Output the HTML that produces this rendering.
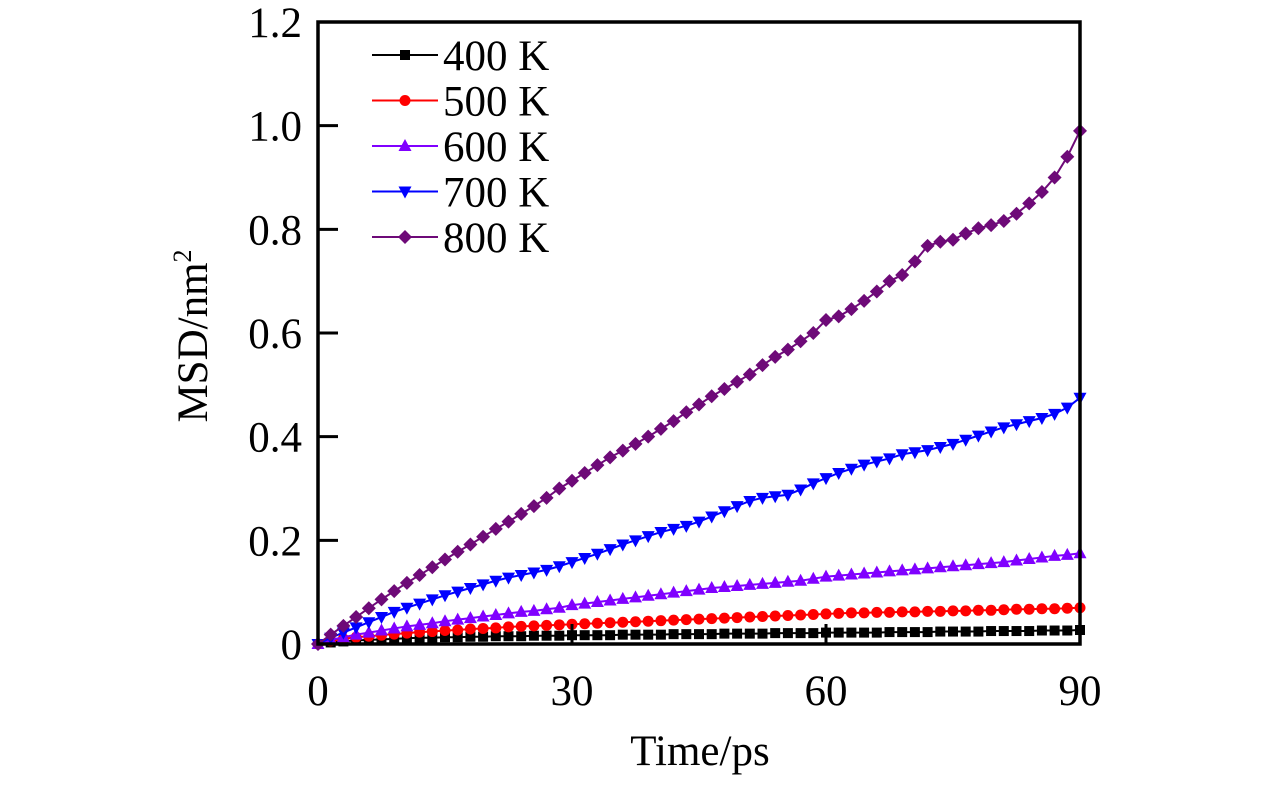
<!DOCTYPE html>
<html><head><meta charset="utf-8"><style>
html,body{margin:0;padding:0;background:#fff;}
svg text{font-family:"Liberation Serif",serif;fill:#000;}
</style></head><body>
<svg id="chart" width="1276" height="787" xmlns="http://www.w3.org/2000/svg"></svg>
<script>
const times = Array.from({length:61},(_,i)=>i*1.5);
const seriesNames = ["400 K","500 K","600 K","700 K","800 K"];
const s400 = [0,.003,.005,.007,.008,.009,.010,.011,.012,.012,.013,.013,.014,.014,.015,.015,.015,.016,.016,.016,.017,.017,.017,.017,.018,.018,.018,.018,.019,.019,.019,.019,.020,.020,.020,.020,.021,.021,.021,.021,.022,.022,.022,.022,.022,.023,.023,.023,.023,.024,.024,.024,.024,.025,.025,.025,.025,.026,.026,.026,.027];
const s500 = [0,.006,.010,.013,.015,.017,.019,.021,.023,.024,.026,.027,.029,.030,.031,.033,.034,.035,.036,.037,.038,.039,.040,.041,.042,.043,.044,.045,.046,.047,.048,.049,.050,.051,.052,.053,.054,.055,.056,.057,.058,.059,.060,.060,.061,.061,.062,.062,.063,.063,.064,.064,.065,.065,.066,.067,.067,.068,.068,.069,.070];
const s600 = [0,.008,.013,.018,.022,.026,.030,.034,.037,.040,.044,.047,.050,.053,.056,.059,.062,.064,.067,.070,.075,.078,.081,.084,.087,.090,.093,.096,.099,.102,.105,.108,.110,.112,.114,.116,.118,.120,.122,.126,.130,.132,.134,.136,.138,.140,.142,.144,.146,.148,.150,.152,.154,.156,.158,.161,.164,.167,.170,.172,.175];
const s700 = [0,.012,.022,.032,.042,.052,.062,.070,.078,.086,.094,.101,.108,.115,.122,.128,.133,.138,.143,.150,.158,.166,.174,.183,.192,.200,.208,.216,.222,.228,.236,.246,.256,.266,.276,.282,.285,.288,.298,.310,.320,.330,.338,.346,.352,.358,.366,.370,.374,.380,.386,.394,.402,.410,.418,.424,.430,.436,.444,.456,.475];
const s800 = [0,.018,.035,.052,.069,.086,.102,.118,.133,.148,.163,.178,.192,.207,.222,.236,.251,.266,.282,.300,.315,.330,.345,.360,.373,.386,.400,.415,.430,.447,.462,.478,.492,.506,.520,.538,.554,.568,.584,.600,.625,.632,.646,.662,.680,.700,.712,.738,.768,.776,.780,.792,.802,.808,.816,.830,.850,.872,.900,.940,.990];
const xTicks = [0,30,60,90];
const yTicks = [0,0.2,0.4,0.6,0.8,1.0,1.2];
const yTickLabels = ["0","0.2","0.4","0.6","0.8","1.0","1.2"];

const L=318,R=1080,T=22,B=644;
const xs=v=>L+(v/90)*(R-L);
const ys=v=>B-(v/1.2)*(B-T);
const svg=document.getElementById('chart');
const NS="http://www.w3.org/2000/svg";
function mk(tag,attrs,parent){const e=document.createElementNS(NS,tag);for(const k in attrs)e.setAttribute(k,attrs[k]);(parent||svg).appendChild(e);return e;}

const colors=["#000000","#ff0000","#8000ff","#0000ff","#6e0a78"];
const shapes=["square","circle","tri","tridown","diamond"];
const data=[s400,s500,s600,s700,s800];
function marker(shape,x,y,c,g){
  if(shape==="square")return mk('rect',{x:x-5,y:y-5,width:10,height:10,fill:c},g);
  if(shape==="circle")return mk('circle',{cx:x,cy:y,r:5.5,fill:c},g);
  if(shape==="tri")return mk('polygon',{points:`${x},${y-7} ${x-6.5},${y+5} ${x+6.5},${y+5}`,fill:c},g);
  if(shape==="tridown")return mk('polygon',{points:`${x},${y+7} ${x-6.5},${y-5} ${x+6.5},${y-5}`,fill:c},g);
  return mk('polygon',{points:`${x},${y-7} ${x+7},${y} ${x},${y+7} ${x-7},${y}`,fill:c},g);
}
data.forEach((arr,si)=>{
  const g=mk('g',{});
  
  
  const pts=arr.map((v,i)=>xs(times[i])+','+ys(v)).join(' ');
  mk('polyline',{points:pts,fill:'none',stroke:colors[si],'stroke-width':2},g);
  arr.forEach((v,i)=>{const m=marker(shapes[si],xs(times[i]),ys(v),colors[si],g);
    
    });
});

const frame=mk('rect',{x:L,y:T,width:R-L,height:B-T,fill:'none',stroke:'#000','stroke-width':3.5});



xTicks.forEach(v=>{
  const t=mk('line',{x1:xs(v),x2:xs(v),y1:B,y2:B-20,stroke:'#000','stroke-width':3});
  
  
  const l=mk('text',{x:xs(v),y:705,'text-anchor':'middle','font-size':43});
  l.textContent=v;
  
  
});
yTicks.forEach((v,i)=>{
  const t=mk('line',{x1:L,x2:L+20,y1:ys(v),y2:ys(v),stroke:'#000','stroke-width':3});
  
  
  const l=mk('text',{x:302,y:ys(v)+15,'text-anchor':'end','font-size':43});
  l.textContent=yTickLabels[i];
  
  
});
const xt=mk('text',{x:700,y:765,'text-anchor':'middle','font-size':43});
xt.textContent='Time/ps';


const yt=mk('text',{x:0,y:0,'text-anchor':'middle','font-size':43,transform:'translate(207,336) rotate(-90)'});
yt.innerHTML='MSD/nm<tspan font-size="26" dy="-16">2</tspan>';



seriesNames.forEach((n,i)=>{
  const y=55+i*45.5;
  const g=mk('g',{});
  
  
  mk('line',{x1:372,x2:438,y1:y,y2:y,stroke:colors[i],'stroke-width':2},g);
  marker(shapes[i],405,y,colors[i],g);
  const t=mk('text',{x:443,y:y+15,'font-size':43},g);
  t.textContent=n;
});
</script>
</body></html>
